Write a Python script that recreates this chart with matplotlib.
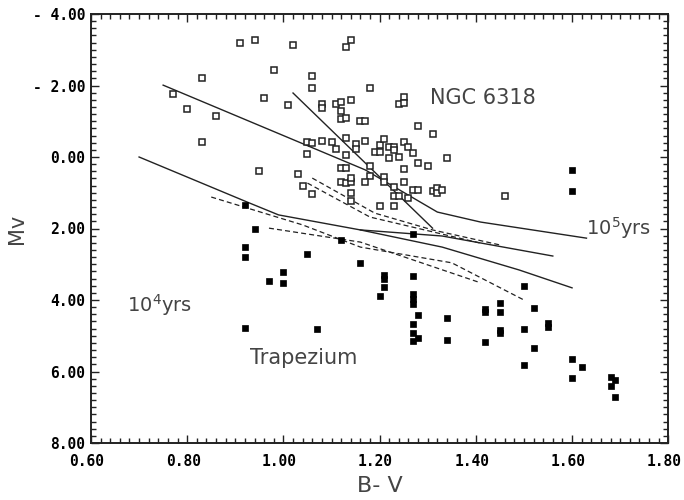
import matplotlib
matplotlib.use("Agg")
import matplotlib.pyplot as plt
import matplotlib.transforms as mtransforms
from matplotlib.ticker import MultipleLocator, FixedLocator, FixedFormatter

# NGC 6318 stars (open squares): B-V, Mv
ngc_bv = [0.77, 0.80, 0.83, 0.86, 0.83, 0.91, 0.94, 1.02, 0.98, 1.06,
          1.06, 1.13, 1.14, 1.18, 0.96, 1.01, 1.08, 1.08, 1.11, 1.12,
          1.14, 1.12, 1.12, 1.13, 1.16, 1.17, 1.24, 1.25, 1.25, 1.28,
          1.31, 1.34, 1.30, 1.28, 1.25, 1.25, 1.27, 1.28, 1.31, 1.32,
          1.32, 1.33, 0.95, 1.03, 1.04, 1.06, 1.05, 1.06, 1.05, 1.08,
          1.10, 1.11, 1.13, 1.13, 1.15, 1.15, 1.17, 1.20, 1.19, 1.20,
          1.21, 1.22, 1.23, 1.23, 1.25, 1.26, 1.27, 1.22, 1.24, 1.12,
          1.13, 1.18, 1.18, 1.21, 1.21, 1.23, 1.17, 1.12, 1.13, 1.14,
          1.14, 1.14, 1.14, 1.20, 1.23, 1.23, 1.24, 1.26, 1.46]
ngc_mv = [-1.76, -1.34, -2.21, -1.15, -0.42, -3.19, -3.27, -3.13, -2.43, -2.27,
          -1.93, -3.08, -3.27, -1.93, -1.65, -1.45, -1.48, -1.37, -1.48, -1.54,
          -1.59, -1.29, -1.06, -1.09, -1.01, -1.01, -1.48, -1.68, -1.51, -0.87,
          -0.64, 0.03, 0.25, 0.17, 0.34, 0.70, 0.92, 0.92, 0.95, 0.87,
          1.01, 0.92, 0.39, 0.48, 0.81, 1.03, -0.42, -0.39, -0.08, -0.45,
          -0.42, -0.22, -0.53, -0.06, -0.36, -0.22, -0.45, -0.34, -0.14, -0.14,
          -0.50, -0.28, -0.28, -0.20, -0.42, -0.28, -0.11, 0.03, 0.00, 0.31,
          0.31, 0.25, 0.53, 0.56, 0.70, 0.84, 0.70, 0.70, 0.73, 0.70,
          0.59, 1.01, 1.23, 1.37, 1.37, 1.09, 1.09, 1.15, 1.09]

# Trapezium stars (filled squares)
trap_bv = [0.92, 0.94, 0.92, 0.92, 1.12, 1.27, 1.05, 1.00, 1.00, 0.97,
           1.16, 0.92, 1.07, 1.21, 1.21, 1.21, 1.20, 1.27, 1.27, 1.27,
           1.27, 1.28, 1.27, 1.27, 1.27, 1.28, 1.34, 1.34, 1.42, 1.42,
           1.50, 1.45, 1.45, 1.45, 1.45, 1.42, 1.50, 1.52, 1.55, 1.55,
           1.52, 1.50, 1.60, 1.62, 1.60, 1.68, 1.69, 1.68, 1.69, 1.60,
           1.60]
trap_mv = [1.34, 2.01, 2.52, 2.80, 2.32, 2.15, 2.71, 3.22, 3.52, 3.47,
           2.96, 4.78, 4.81, 3.30, 3.41, 3.64, 3.89, 3.33, 3.83, 3.97,
           4.11, 4.42, 4.67, 4.92, 5.15, 5.06, 4.50, 5.12, 4.25, 4.34,
           3.61, 4.08, 4.34, 4.84, 4.92, 5.17, 4.81, 4.22, 4.64, 4.75,
           5.34, 5.82, 5.65, 5.87, 6.18, 6.15, 6.24, 6.40, 6.71, 0.36,
           0.95]

# solid model lines
line_a_bv = [0.75, 1.17, 1.32, 1.41, 1.63]
line_a_mv = [-2.01, 0.36, 1.54, 1.82, 2.27]
line_s_bv = [1.02, 1.31]
line_s_mv = [-1.79, 1.99]
line_b_bv = [0.70, 0.93, 0.99, 1.16, 1.33, 1.56]
line_b_mv = [0.00, 1.29, 1.62, 2.04, 2.21, 2.77]
line_c_bv = [1.16, 1.33, 1.49, 1.60]
line_c_mv = [2.04, 2.52, 3.16, 3.66]

# dashed tracks
dash1_bv = [0.85, 1.04, 1.16, 1.35, 1.50]
dash1_mv = [1.12, 1.90, 2.52, 2.96, 4.00]
dash2_bv = [0.97, 1.16, 1.41]
dash2_mv = [1.99, 2.38, 3.52]
dash3_bv = [1.06, 1.19, 1.31, 1.45]
dash3_mv = [0.59, 1.57, 2.04, 2.46]
dash4_bv = [1.05, 1.18, 1.41]
dash4_mv = [0.73, 1.68, 2.41]

x_ticks = [0.6, 0.8, 1.0, 1.2, 1.4, 1.6, 1.8]
x_labels = ["0.60", "0.80", "1.00", "1.20", "1.40", "1.60", "1.80"]
y_ticks = [-4, -2, 0, 2, 4, 6, 8]
y_labels = ["- 4.00", "- 2.00", "0.00", "2.00", "4.00", "6.00", "8.00"]

fig = plt.figure(figsize=(6.84, 5.0), dpi=100)
ax = fig.add_axes([0.133, 0.114, 0.844, 0.858])

for bv, mv in [(line_a_bv, line_a_mv), (line_s_bv, line_s_mv),
               (line_b_bv, line_b_mv), (line_c_bv, line_c_mv)]:
    ax.plot(bv, mv, color="#222222", lw=1.0)
for bv, mv in [(dash1_bv, dash1_mv), (dash2_bv, dash2_mv),
               (dash3_bv, dash3_mv), (dash4_bv, dash4_mv)]:
    ax.plot(bv, mv, color="#222222", lw=0.9, ls=(0, (4, 2.5)))

ax.plot(ngc_bv, ngc_mv, ls="none", marker="s", ms=4.2, mfc="white",
        mec="#222222", mew=1.1)
ax.plot(trap_bv, trap_mv, ls="none", marker="s", ms=4.2, mfc="black",
        mec="black", mew=0.5)

ax.text(1.305, -1.65, "NGC 6318", fontsize=15, color="#444444", va="center")
ax.text(0.93, 5.62, "Trapezium", fontsize=15, color="#444444", va="center")
ax.text(0.675, 4.14, "10$^4$yrs", fontsize=14, color="#444444", va="center")
ax.text(1.628, 1.99, "10$^5$yrs", fontsize=14, color="#444444", va="center")

ax.set_xlim(0.6, 1.8)
ax.set_ylim(8, -4)
ax.xaxis.set_major_locator(FixedLocator(x_ticks))
ax.xaxis.set_major_formatter(FixedFormatter(x_labels))
ax.yaxis.set_major_locator(FixedLocator(y_ticks))
ax.yaxis.set_major_formatter(FixedFormatter(y_labels))
ax.xaxis.set_minor_locator(MultipleLocator(0.02))
ax.yaxis.set_minor_locator(MultipleLocator(0.2))
ax.tick_params(which="both", direction="in", top=True, right=True,
               color="#222222", width=1.0)
ax.tick_params(which="major", length=6)
ax.tick_params(which="minor", length=3.5)
ax.tick_params(axis="x", pad=8)
ax.tick_params(axis="y", pad=4)
shift = mtransforms.ScaledTranslation(-4 / 100, 0, fig.dpi_scale_trans)
for lab in ax.get_xticklabels():
    lab.set_transform(lab.get_transform() + shift)
for lab in ax.get_xticklabels() + ax.get_yticklabels():
    lab.set_fontfamily("DejaVu Sans Mono")
    lab.set_fontweight("bold")
    lab.set_fontsize(10.5)
for sp in ax.spines.values():
    sp.set_linewidth(1.4)
    sp.set_color("#222222")

ax.set_xlabel("B- V", fontsize=16, color="#444444", labelpad=5)
ax.set_ylabel("Mv", fontsize=15, color="#444444", labelpad=4)

fig.savefig("out.png", dpi=100)
